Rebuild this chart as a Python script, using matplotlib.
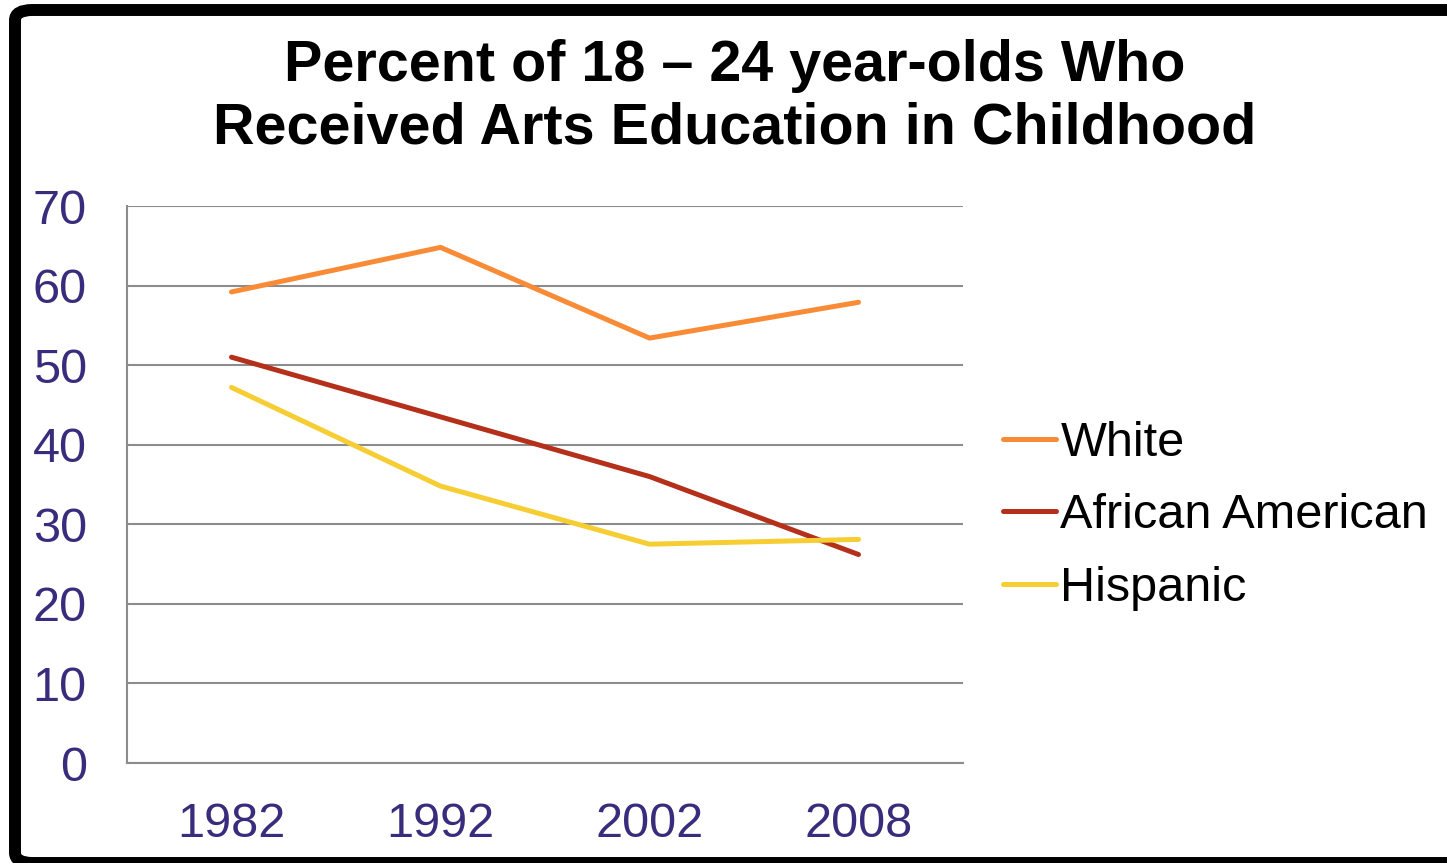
import numpy as np
import matplotlib.pyplot as plt
from matplotlib.patches import FancyBboxPatch

plt.rcParams['font.family'] = ['Liberation Sans', 'DejaVu Sans']

# data
years = ['1982', '1992', '2002', '2008']
white = [59.2, 64.8, 53.4, 57.9]
african_american = [51.0, 43.5, 36.0, 26.2]
hispanic = [47.2, 34.8, 27.5, 28.1]

tick_color = '#3a2c7c'
grid_color = '#8c8c8c'

W, H = 1447, 863
fig = plt.figure(figsize=(W / 100, H / 100), dpi=100)
ax = fig.add_axes([127 / W, 1 - 763 / H, (963 - 127) / W, (763 - 206) / H])

x = np.arange(len(years))
ax.plot(x, white, color='#f98b37', lw=3.6, label='White', solid_capstyle='round')
ax.plot(x, african_american, color='#b4301b', lw=3.6, label='African American', solid_capstyle='round')
ax.plot(x, hispanic, color='#f6cd32', lw=3.6, label='Hispanic', solid_capstyle='round')

ax.set_xlim(-0.5, 3.5)
ax.set_ylim(0, 70)
ax.set_yticks(np.arange(0, 71, 10))
ax.set_xticks(x)
ax.set_xticklabels(years)
ax.yaxis.grid(True, color=grid_color, lw=1.5)
ax.set_axisbelow(True)
for s in ['top', 'right']:
    ax.spines[s].set_visible(False)
for s in ['left', 'bottom']:
    ax.spines[s].set_color(grid_color)
    ax.spines[s].set_linewidth(1.5)
ax.tick_params(axis='both', length=0, labelsize=35, labelcolor=tick_color)
ax.tick_params(axis='y', pad=29)
ax.tick_params(axis='x', pad=28)

leg = ax.legend(loc='center left', bbox_to_anchor=(1003 / W, 1 - 516 / H),
                bbox_transform=fig.transFigure, frameon=False, fontsize=35,
                handlelength=1.1, handletextpad=0.08, labelspacing=0.56,
                borderpad=0, borderaxespad=0)

fig.text(735 / W, 1 - 97 / H, 'Percent of 18 \u2013 24 year-olds Who\nReceived Arts Education in Childhood',
         ha='center', va='center', fontsize=41.4, fontweight='bold', linespacing=1.2)

# black frame around the slide
frame = FancyBboxPatch((15 / W, 0), 1.05, 1 - 10 / H, transform=fig.transFigure,
                       boxstyle='round,pad=0,rounding_size=0.012', fill=False,
                       edgecolor='black', lw=8.6, clip_on=False)
fig.patches.append(frame)

fig.savefig('out.png', dpi=100)
